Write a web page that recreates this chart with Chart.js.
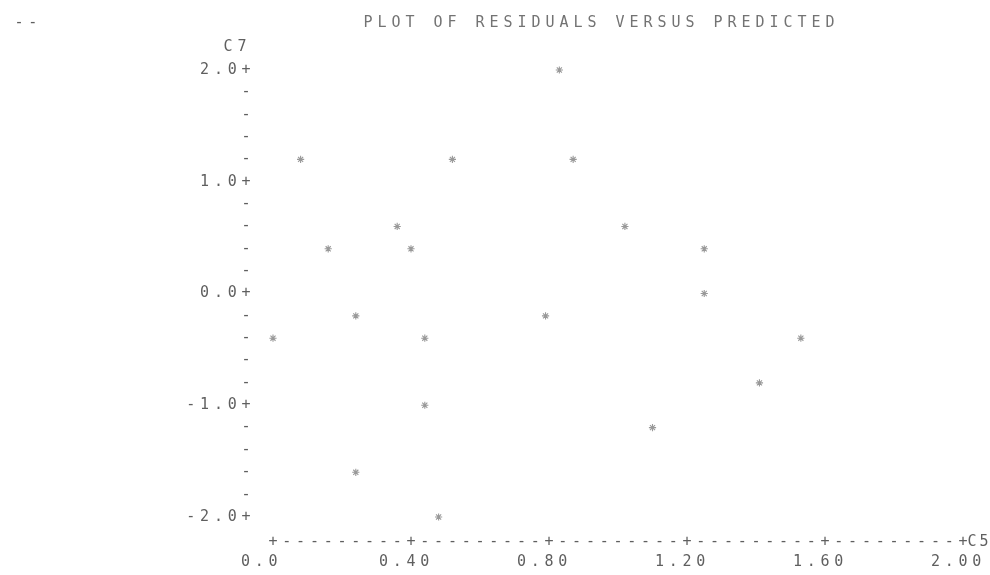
<!DOCTYPE html>
<html>
<head>
<meta charset="utf-8">
<title>Plot of residuals versus predicted</title>
<script src="https://cdn.jsdelivr.net/npm/chart.js@4.4.1/dist/chart.umd.min.js"></script>
<style>
  html, body { margin: 0; padding: 0; background: #fff; }
  #plot { display: block; }
</style>
</head>
<body>
<canvas id="plot" width="990" height="575"></canvas>
<script>

// predicted values (C5) and residuals (C7), one entry per observation
let predicted = [0.08, 0.52, 0.83, 0.87, 0.36, 0.16, 0.40, 1.02, 1.25, 1.25, 0.00, 0.24, 0.44, 0.79, 1.53, 1.41, 0.44, 1.10, 0.24, 0.48]
let residuals = [1.2, 1.2, 2.0, 1.2, 0.6, 0.4, 0.4, 0.6, 0.4, 0.0, -0.4, -0.2, -0.4, -0.2, -0.4, -0.8, -1.0, -1.2, -1.6, -2.0]

let xTicks = [0, 0.4, 0.8, 1.2, 1.6, 2.0]
let xTickLabels = ['0.0', '0.40', '0.80', '1.20', '1.60', '2.00']
let yTicks = [2, 1, 0, -1, -2]
let yTickLabels = ['2.0', '1.0', '0.0', '-1.0', '-2.0']

let title = 'PLOT OF RESIDUALS VERSUS PREDICTED'
let xName = 'C5'
let yName = 'C7'

const PITCH = 13.8          // width of one printer column
const INK = '#5f5f5f'
const FONT = '15px "DejaVu Sans Mono", monospace'

// prints a string one character per column, centred on x for the first char
let typeAt = (ctx, text, x, y, pitch) => {
  for (let i = 0; i < text.length; i++) {
    ctx.fillText(text[i], x + i * (pitch || PITCH), y)
  }
}

// draws the line-printer axes, labels and heading around the chart area
const printer = {
  id: 'printer',
  afterDraw: (chart) => {
    let ctx = chart.ctx
    let xs = chart.scales.x
    let ys = chart.scales.y
    let area = chart.chartArea

    ctx.save()
    ctx.fillStyle = INK
    ctx.font = FONT
    ctx.textAlign = 'center'
    ctx.textBaseline = 'middle'

    // heading
    typeAt(ctx, '--', 19, 23)
    ctx.fillStyle = '#737373'
    typeAt(ctx, title, 599 - (title.length - 1) * 14 / 2, 23, 14)
    ctx.fillStyle = INK

    // vertical axis: a '+' on labelled rows, '-' on the rest
    let col = area.left - 27
    typeAt(ctx, yName, col - 18, 47, 14)
    let lo = yTicks[yTicks.length - 1], hi = yTicks[0]
    let rowsPerUnit = 5
    for (let k = lo * rowsPerUnit; k <= hi * rowsPerUnit; k++) {
      let py = ys.getPixelForValue(k / rowsPerUnit)
      ctx.fillText(k % rowsPerUnit === 0 ? '+' : '-', col, py)
    }
    yTicks.forEach((v, i) => {
      let lab = yTickLabels[i]
      let py = ys.getPixelForValue(v)
      typeAt(ctx, lab, col - lab.length * PITCH, py)
    })

    // horizontal axis drawn as +---------+ with ten columns per tick
    let axisY = area.bottom + 25
    let colsPerTick = 10
    let first = xTicks[0], last = xTicks[xTicks.length - 1]
    let step = (xTicks[1] - xTicks[0]) / colsPerTick
    let n = Math.round((last - first) / step)
    for (let k = 0; k <= n; k++) {
      let px = xs.getPixelForValue(first + k * step)
      ctx.fillText(k % colsPerTick === 0 ? '+' : '-', px, axisY)
    }
    typeAt(ctx, xName, xs.getPixelForValue(last) + 9, axisY, 12)

    xTicks.forEach((v, i) => {
      let px = xs.getPixelForValue(v)
      typeAt(ctx, xTickLabels[i], px - 2 * PITCH, area.bottom + 45)
    })

    ctx.restore()
  }
}

let plot = () => {
  const ctx = document.getElementById('plot')

  const dataset = {
    datasets: [{
      data: predicted.map((x, i) => ({ x: x, y: residuals[i] })),
      pointStyle: 'star',
      radius: 3.6,
      borderColor: '#999999',
      backgroundColor: '#999999',
      borderWidth: 1.1,
      clip: false
    }]
  }

  const config = {
    type: 'scatter',
    data: dataset,
    options: {
      responsive: false,
      animation: false,
      events: [],
      layout: { padding: { left: 273, right: 27, top: 70, bottom: 58 } },
      plugins: {
        legend: { display: false },
        tooltip: { enabled: false }
      },
      scales: {
        x: { type: 'linear', min: 0, max: 2, display: false },
        y: { type: 'linear', min: -2, max: 2, display: false }
      }
    },
    plugins: [printer]
  }

  new Chart(ctx, config)
}

plot()
</script>
</body>
</html>
